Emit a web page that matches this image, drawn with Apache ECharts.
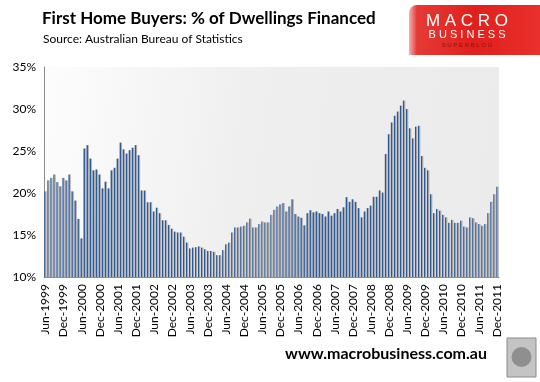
<!DOCTYPE html>
<html><head><meta charset="utf-8">
<script src="https://cdn.jsdelivr.net/npm/echarts@6/dist/echarts.min.js"></script>
<style>html,body{margin:0;padding:0;background:#fff}#c{width:540px;height:382px}</style>
</head><body><div id="c"></div>
<script>
// Monthly categories Jun-1999 .. Dec-2011
const monthNames = ['Jan','Feb','Mar','Apr','May','Jun','Jul','Aug','Sep','Oct','Nov','Dec'];
const startYear = 1999, startMonth = 5, monthCount = 151;
const categories = [];
for (let k = 0; k < monthCount; k++) {
  const m = (startMonth + k) % 12, y = startYear + Math.floor((startMonth + k) / 12);
  categories.push(monthNames[m] + '-' + y);
}
// % of dwellings financed to first home buyers
const values1999_2001 = [20.2,21.5,21.8,22.2,21.3,20.8,21.8,21.5,22.2,20.2,19.1,16.9,14.6,25.3,25.7,24.1,22.7,22.8,22.2,20.55,21.35,20.55,22.7,23.0,24.1];
const values2001_2003 = [26.0,25.2,24.7,25.1,25.4,25.7,24.5,20.3,20.3,18.9,18.9,17.8,18.25,17.6,16.75,16.75,16.2,15.75,15.4,15.3,15.3,14.8,14.1,13.4,13.5];
const values2003_2005 = [13.55,13.65,13.5,13.3,13.1,13.1,13.0,12.6,12.6,13.2,13.9,14.1,15.3,15.9,15.9,16.0,16.1,16.5,16.95,15.9,15.9,16.3,16.6,16.5,16.5];
const values2005_2007 = [17.4,18.0,18.4,18.65,18.8,17.8,18.4,19.25,17.5,17.2,17.05,16.15,17.6,17.95,17.7,17.8,17.6,17.5,17.2,17.8,17.3,17.6,18.1,17.8,18.3];
const values2007_2009 = [19.5,18.95,19.25,18.95,18.2,17.1,17.8,18.2,18.5,19.55,19.55,20.3,20.05,24.65,27.0,28.4,29.2,29.7,30.4,31.0,30.0,27.7,26.5,27.9,28.0];
const values2009_2011 = [24.4,23.0,22.7,19.85,17.6,18.1,17.9,17.4,17.1,16.45,16.8,16.45,16.45,16.7,16.0,15.9,17.1,17.0,16.5,16.3,16.1,16.3,17.6,18.95,19.85,20.75];
const values = [].concat(values1999_2001, values2001_2003, values2003_2005, values2005_2007, values2007_2009, values2009_2011);
const yTicks = [10, 15, 20, 25, 30, 35];

const chart = echarts.init(document.getElementById('c'), null, {renderer: 'canvas'});
const FONT = 'Lato';
chart.setOption({
  animation: false,
  backgroundColor: '#ffffff',
  grid: {
    left: 44, right: 41, top: 67, bottom: 105, show: true, borderWidth: 0,
    backgroundColor: {type: 'linear', x: 0, y: 0, x2: 1, y2: 0.3,
      colorStops: [{offset: 0, color: '#fdfdfd'}, {offset: 0.45, color: '#efefef'}, {offset: 1, color: '#ebebeb'}]}
  },
  xAxis: {
    type: 'category', data: categories, boundaryGap: true,
    axisLine: {lineStyle: {color: '#8c8c8c', width: 1}},
    axisTick: {show: false},
    axisLabel: {interval: 5, rotate: 90, fontFamily: FONT, fontSize: 12, color: '#000', margin: 7}
  },
  yAxis: {
    type: 'value', min: yTicks[0], max: yTicks[yTicks.length - 1], interval: 5,
    splitLine: {show: false},
    axisLine: {show: true, lineStyle: {color: '#8c8c8c', width: 1}},
    axisTick: {show: false},
    axisLabel: {formatter: '{value}%', fontFamily: FONT, fontSize: 12, color: '#000', margin: 8}
  },
  series: [{
    type: 'bar', data: values, barWidth: 2.4,
    itemStyle: {color: {type: 'linear', x: 0, y: 0, x2: 1, y2: 0,
      colorStops: [{offset: 0, color: '#2c5797'}, {offset: 0.42, color: '#2f5a98'}, {offset: 0.5, color: '#9c9ea2'}, {offset: 1, color: '#b3b3b3'}]}}
  }],
  graphic: [
    {type: 'text', left: 42, top: 10, style: {text: 'First Home Buyers: % of Dwellings Financed', font: 'bold 17px Lato', fill: '#000'}},
    {type: 'text', left: 43, top: 33, style: {text: 'Source: Australian Bureau of Statistics', font: '12px Lato', fill: '#000'}},
    {type: 'rect', shape: {x: 409, y: 5, width: 131, height: 50, r: [8, 0, 0, 0]},
      style: {fill: {type: 'linear', x: 0, y: 0, x2: 1, y2: 0,
        colorStops: [{offset: 0, color: '#f6b0b0'}, {offset: 0.06, color: '#e53a36'}, {offset: 0.5, color: '#e0201c'}, {offset: 1, color: '#e8302c'}]}}},
    {type: 'text', x: 467, y: 21, style: {text: 'M A C R O', font: '17px "Liberation Sans"', fill: '#fff', align: 'center', verticalAlign: 'middle'}},
    {type: 'text', x: 467, y: 35, style: {text: 'B U S I N E S S', font: '11px "Liberation Sans"', fill: '#fff', align: 'center', verticalAlign: 'middle'}},
    {type: 'text', x: 467, y: 45, style: {text: 'S U P E R B L O G', font: '6px "Liberation Sans"', fill: '#8a1010', align: 'center', verticalAlign: 'middle'}},
    {type: 'text', x: 386, y: 354, style: {text: 'www.macrobusiness.com.au', font: 'bold 16px Lato', fill: '#000', align: 'center', verticalAlign: 'middle'}},
    {type: 'rect', shape: {x: 507, y: 338, width: 29, height: 39}, style: {fill: '#c4c4c4', stroke: '#8a8a8a', lineWidth: 1}},
    {type: 'circle', shape: {cx: 521.5, cy: 357, r: 10}, style: {fill: '#8f8f8f'}}
  ]
});
</script></body></html>
